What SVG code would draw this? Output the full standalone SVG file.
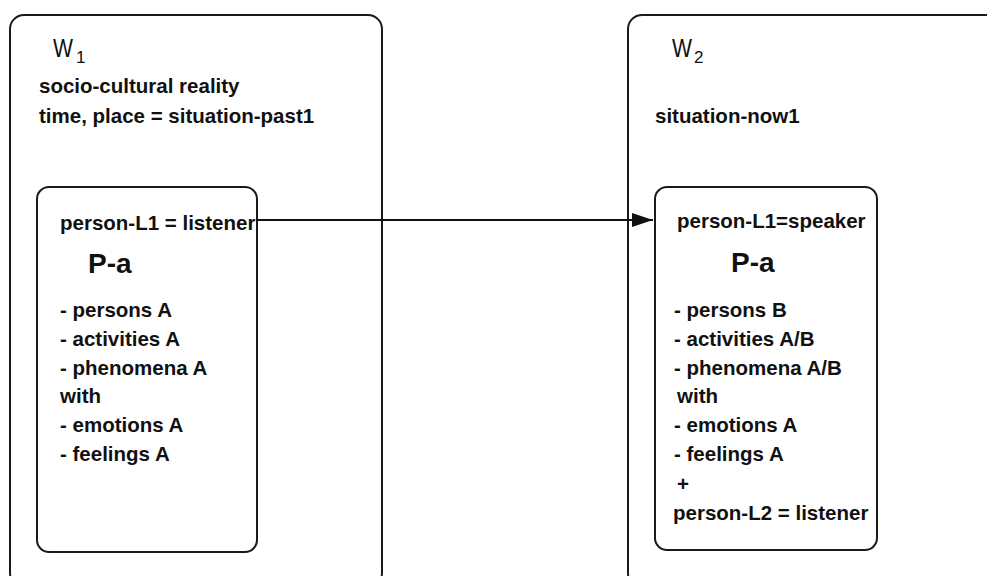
<svg xmlns="http://www.w3.org/2000/svg" width="987" height="576" viewBox="0 0 987 576">
<defs>
<style>
.box{fill:#fff;stroke:#1a1a1a;stroke-width:2}
.t{font-family:"Liberation Sans",Arial,sans-serif;font-weight:bold;font-size:20.5px;fill:#111}
.big{font-family:"Liberation Sans",Arial,sans-serif;font-weight:bold;font-size:28px;fill:#111}
.w{font-family:"Liberation Sans",Arial,sans-serif;font-size:25px;fill:#111}
.sub{font-family:"Liberation Sans",Arial,sans-serif;font-size:17px;fill:#111}
.conn{stroke:#111;stroke-width:2;fill:none}
</style>
<marker id="arr" markerWidth="22" markerHeight="16" refX="21" refY="7" orient="auto" markerUnits="userSpaceOnUse">
<path d="M0,0 L21,7 L0,14 Z" fill="#111"/>
</marker>
</defs>
<rect width="987" height="576" fill="#fff"/>
<g id="W1">
<rect class="box" x="10" y="15" width="372" height="572" rx="14"/>
<text class="w" x="53" y="57" textLength="20" lengthAdjust="spacingAndGlyphs">W</text><text class="sub" x="76" y="63">1</text>
<text class="t" x="39" y="93">socio-cultural reality</text>
<text class="t" x="39" y="123">time, place = situation-past1</text>
</g>
<g id="W2">
<rect class="box" x="628" y="15" width="420" height="572" rx="14"/>
<text class="w" x="672" y="57" textLength="20" lengthAdjust="spacingAndGlyphs">W</text><text class="sub" x="694" y="63">2</text>
<text class="t" x="655" y="123">situation-now1</text>
</g>
<g id="Pa1">
<rect class="box" x="37" y="187" width="220" height="365" rx="12"/>
<text class="t" x="60" y="230">person-L1 = listener</text>
<text class="big" x="88" y="273">P-a</text>
<text class="t" x="60" y="317">- persons A</text>
<text class="t" x="60" y="346">- activities A</text>
<text class="t" x="60" y="375">- phenomena A</text>
<text class="t" x="60" y="403">with</text>
<text class="t" x="60" y="432">- emotions A</text>
<text class="t" x="60" y="461">- feelings A</text>
</g>
<g id="Pa2">
<rect class="box" x="655" y="187" width="222" height="363" rx="12"/>
<text class="t" x="677" y="228">person-L1=speaker</text>
<text class="big" x="731" y="272">P-a</text>
<text class="t" x="674" y="317">- persons B</text>
<text class="t" x="674" y="346">- activities A/B</text>
<text class="t" x="674" y="375">- phenomena A/B</text>
<text class="t" x="677" y="403">with</text>
<text class="t" x="674" y="432">- emotions A</text>
<text class="t" x="674" y="461">- feelings A</text>
<text class="t" x="677" y="491">+</text>
<text class="t" x="673" y="520">person-L2 = listener</text>
</g>
<g id="connectors">
<line class="conn" x1="257" y1="220" x2="653" y2="220" marker-end="url(#arr)"/>
</g>
</svg>
